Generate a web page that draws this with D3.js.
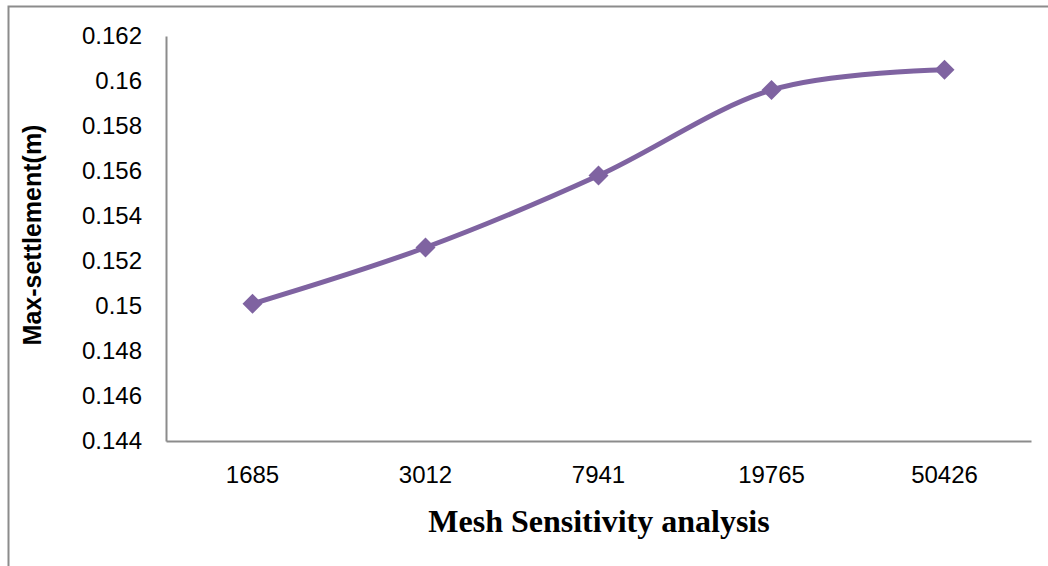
<!DOCTYPE html>
<html>
<head>
<meta charset="utf-8">
<script src="https://cdn.jsdelivr.net/npm/d3@7"></script>
<style>
  html, body { margin: 0; padding: 0; background: #fff; }
  svg { display: block; }
</style>
</head>
<body>
<svg id="chart" width="1048" height="566"></svg>
<script>
// Mesh sizes (element counts) and the maximum settlement computed for each
const meshSizes = ["1685", "3012", "7941", "19765", "50426"];
const maxSettlement = [0.1501, 0.1526, 0.1558, 0.1596, 0.1605];
const yTicks = [0.144, 0.146, 0.148, 0.15, 0.152, 0.154, 0.156, 0.158, 0.16, 0.162];

const svg = d3.select("#chart");
const W = 1048, H = 566;
const plot = { left: 166, right: 1031, top: 36, bottom: 441 };
const axisColor = "#8c8c8c";
const seriesColor = "#7f63a1";

// Outer frame (left and top edges)
svg.append("path")
  .attr("d", `M8.5,${H} V6.5 H${W}`)
  .attr("fill", "none")
  .attr("stroke", axisColor)
  .attr("stroke-width", 2);

const x = d3.scaleBand().domain(meshSizes).range([plot.left, plot.right]);
const y = d3.scaleLinear().domain([0.144, 0.162]).range([plot.bottom, plot.top]);

// Y axis: line plus labels, no tick marks
const yAxis = svg.append("g")
  .attr("transform", `translate(${plot.left},0)`)
  .call(d3.axisLeft(y).tickValues(yTicks).tickFormat(d => String(+d.toFixed(3))).tickSize(0).tickPadding(24));
yAxis.select(".domain").attr("stroke", axisColor).attr("stroke-width", 2);
yAxis.selectAll("text")
  .attr("font-family", "'Liberation Sans', Arial, sans-serif")
  .attr("font-size", 24)
  .attr("fill", "#000");

// X axis
const xAxis = svg.append("g")
  .attr("transform", `translate(0,${plot.bottom})`)
  .call(d3.axisBottom(x).tickSize(0).tickPadding(25));
xAxis.select(".domain").attr("stroke", axisColor).attr("stroke-width", 2);
xAxis.selectAll("text")
  .attr("font-family", "'Liberation Sans', Arial, sans-serif")
  .attr("font-size", 24)
  .attr("fill", "#000");

// Axis titles
svg.append("text")
  .attr("x", 599)
  .attr("y", 532)
  .attr("text-anchor", "middle")
  .attr("font-family", "'Liberation Serif', 'Times New Roman', serif")
  .attr("font-weight", "bold")
  .attr("font-size", 32)
  .text("Mesh Sensitivity analysis");

svg.append("text")
  .attr("transform", "translate(41,235) rotate(-90)")
  .attr("text-anchor", "middle")
  .attr("font-family", "'Liberation Sans', Arial, sans-serif")
  .attr("font-weight", "bold")
  .attr("font-size", 25)
  .text("Max-settlement(m)");

// Smoothed series line
const pts = meshSizes.map((m, i) => [x(m) + x.bandwidth() / 2, y(maxSettlement[i])]);
svg.append("path")
  .datum(pts)
  .attr("d", d3.line().curve(d3.curveCardinal.tension(0)))
  .attr("fill", "none")
  .attr("stroke", seriesColor)
  .attr("stroke-width", 5)
  .attr("stroke-linecap", "round");

// Diamond markers
const diamond = d3.symbol().type(d3.symbolDiamond2).size(255);
svg.append("g")
  .selectAll("path")
  .data(pts)
  .join("path")
  .attr("transform", d => `translate(${d[0]},${d[1]})`)
  .attr("d", diamond)
  .attr("fill", seriesColor);
</script>
</body>
</html>
